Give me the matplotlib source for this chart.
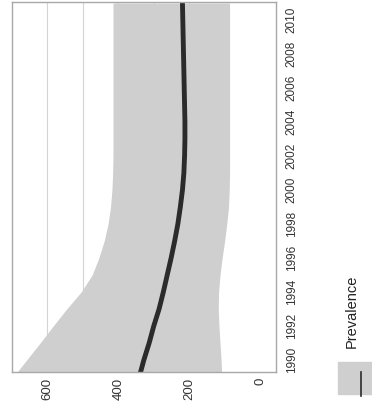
import numpy as np
import matplotlib
matplotlib.use("Agg")
import matplotlib.pyplot as plt
from matplotlib.patches import Rectangle
from matplotlib.lines import Line2D

# data (the chart is turned 90 degrees)
years = list(range(1989, 2012))
prevalence = [341, 328, 313, 300, 285, 273, 262, 251, 241, 232, 225, 219,
              215, 213, 212, 212, 213, 214, 215, 216, 217, 218, 219]
upper = [697, 659, 621, 584, 546, 505, 474, 455, 440, 429, 422, 418,
         416, 415, 415, 415, 415, 415, 415, 415, 415, 415, 415]
lower = [108, 110, 113, 116, 118, 117, 113, 107, 100, 94, 89, 87,
         86, 86, 86, 86, 86, 86, 86, 86, 86, 86, 86]
year_ticks = list(range(1990, 2011, 2))
value_ticks = [0, 200, 400, 600]
grid_values = [200, 300, 400, 500, 600]
legend_label = "Prevalence"

band_color = "#cfcfcf"
line_color = "#2b2b2b"
text_color = "#333333"
fonts = ["Liberation Sans", "DejaVu Sans"]

fig = plt.figure(figsize=(3.72, 4.08), dpi=100)
ax = fig.add_axes([12 / 372, 1 - 372 / 408, 264 / 372, 370 / 408])

for v in grid_values:
    ax.axvline(v, color="#d4d4d4", lw=0.8, zorder=0)

# values on the horizontal axis (growing to the left), years going up
ax.fill_betweenx(years, lower, upper, color=band_color, lw=0, zorder=1)
ax.plot(prevalence, years, color=line_color, lw=3.5, zorder=2)

ax.set_xlim(700, -45)
ax.set_ylim(1989.3, 2011.06)

ax.set_xticks(value_ticks)
ax.set_xticklabels([str(v) for v in value_ticks], rotation=90,
                   family=fonts, fontsize=9.5, color=text_color)
ax.set_yticks(year_ticks)
ax.set_yticklabels([str(y) for y in year_ticks], rotation=90, va="center",
                   family=fonts, fontsize=8.5, color=text_color)
ax.yaxis.tick_right()
ax.tick_params(axis="both", length=0)
ax.tick_params(axis="x", pad=4)
ax.tick_params(axis="y", pad=7)

for s in ax.spines.values():
    s.set_color("#a8a8a8")
    s.set_linewidth(1.0)

# legend drawn by hand so the label can be turned like the rest
fig.patches.append(Rectangle((338 / 372, 1 - 394 / 408), 34 / 372, 32 / 408,
                             transform=fig.transFigure, color=band_color))
fig.lines.append(Line2D([361 / 372, 361 / 372], [1 - 396 / 408, 1 - 372 / 408],
                        transform=fig.transFigure, color=line_color, lw=1.2))
fig.text(352 / 372, 1 - 348 / 408, legend_label, rotation=90, ha="center",
         va="bottom", family=fonts, fontsize=10.5, color="#222222")

fig.savefig("out.png", dpi=100)
